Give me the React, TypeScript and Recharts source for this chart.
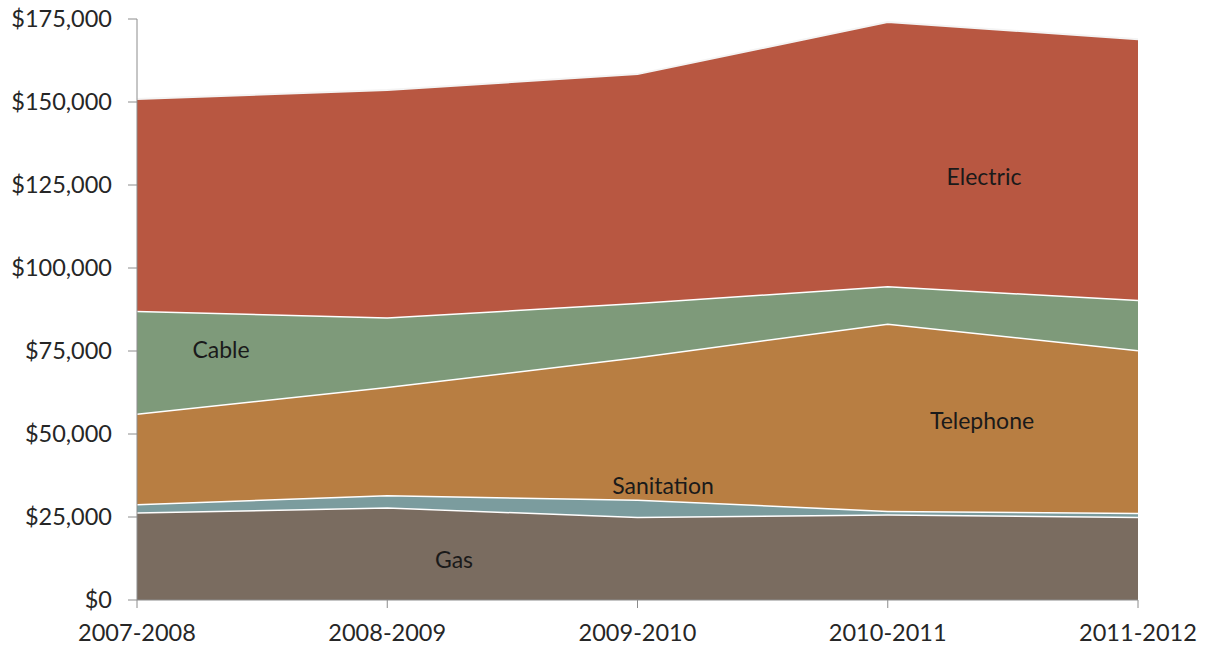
import React from "react";
import { AreaChart, Area, XAxis, YAxis } from "recharts";

const years = ["2007-2008", "2008-2009", "2009-2010", "2010-2011", "2011-2012"];
const gas = [26400, 27900, 25100, 25800, 25100];
const sanitation = [2500, 3700, 5200, 1100, 1200];
const telephone = [27300, 32600, 42900, 56400, 49000];
const cable = [30900, 21000, 16300, 11300, 15100];
const electric = [63800, 68400, 68900, 79500, 78500];
const yTicks = [0, 25000, 50000, 75000, 100000, 125000, 150000, 175000];

const data = years.map((year, i) => ({
  year,
  gas: gas[i],
  sanitation: sanitation[i],
  telephone: telephone[i],
  cable: cable[i],
  electric: electric[i],
}));

const FONT = "Lato, 'Open Sans', sans-serif";
const tickStyle = { fill: "#262626", fontSize: 23.5, fontFamily: FONT };

const money = (v: number) => "$" + v.toLocaleString("en-US");

// series labels sit inside their bands
const labels = [
  { text: "Electric", left: 984, top: 176 },
  { text: "Cable", left: 221, top: 349 },
  { text: "Telephone", left: 982, top: 420 },
  { text: "Sanitation", left: 663, top: 485 },
  { text: "Gas", left: 454, top: 559 },
];

export default function App() {
  return (
    <div style={{ position: "fixed", left: 0, top: 0, width: 1213, height: 646, background: "#fff" }}>
      <AreaChart width={1213} height={646} data={data} margin={{ top: 19, right: 75, left: 0, bottom: 0 }}>
        <XAxis
          dataKey="year"
          height={46}
          tick={tickStyle}
          tickSize={8}
          tickMargin={16}
          axisLine={{ stroke: "#8c8c8c" }}
          tickLine={{ stroke: "#8c8c8c" }}
        />
        <YAxis
          width={137}
          domain={[0, 175000]}
          ticks={yTicks}
          tickFormatter={money}
          tick={tickStyle}
          tickSize={9}
          tickMargin={16}
          axisLine={{ stroke: "#8c8c8c" }}
          tickLine={{ stroke: "#8c8c8c" }}
          interval={0}
        />
        <Area type="linear" dataKey="gas" stackId="1" fill="#7a6c60" fillOpacity={1} stroke="#ffffff" strokeWidth={3} isAnimationActive={false} />
        <Area type="linear" dataKey="sanitation" stackId="1" fill="#7b9c9e" fillOpacity={1} stroke="#ffffff" strokeWidth={3} isAnimationActive={false} />
        <Area type="linear" dataKey="telephone" stackId="1" fill="#b87e42" fillOpacity={1} stroke="#ffffff" strokeWidth={3} isAnimationActive={false} />
        <Area type="linear" dataKey="cable" stackId="1" fill="#7e9a7a" fillOpacity={1} stroke="#ffffff" strokeWidth={3} isAnimationActive={false} />
        <Area type="linear" dataKey="electric" stackId="1" fill="#b85741" fillOpacity={1} stroke="#f4f4f4" strokeWidth={2} isAnimationActive={false} />
      </AreaChart>
      {labels.map((l) => (
        <div
          key={l.text}
          style={{
            position: "absolute",
            left: l.left,
            top: l.top,
            transform: "translate(-50%, -50%)",
            fontFamily: FONT,
            fontSize: 23,
            color: "#1a1a1a",
            whiteSpace: "nowrap",
          }}
        >
          {l.text}
        </div>
      ))}
    </div>
  );
}
